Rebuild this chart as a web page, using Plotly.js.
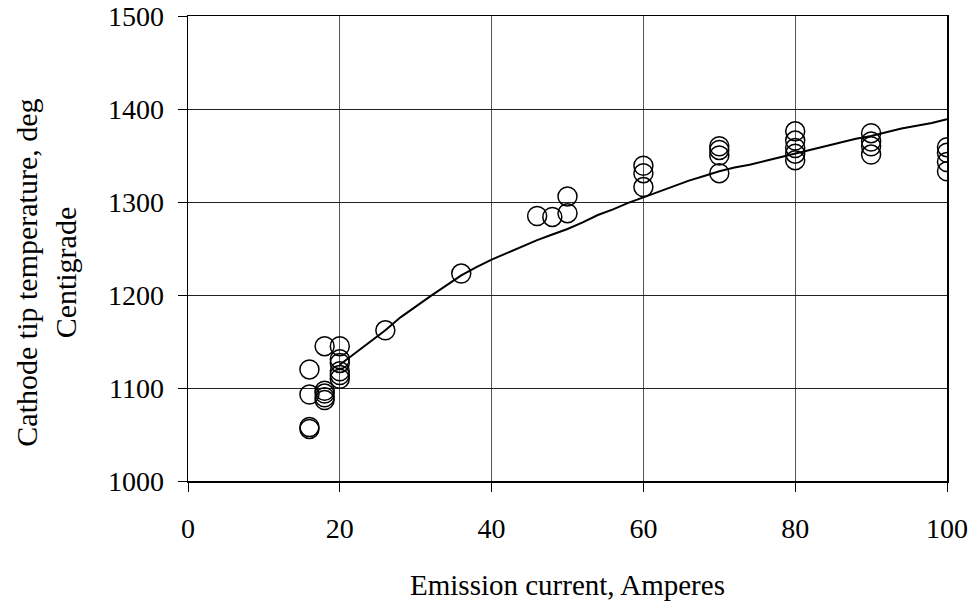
<!DOCTYPE html>
<html>
<head>
<meta charset="utf-8">
<script src="https://cdn.plot.ly/plotly-3.0.1.min.js"></script>
<style>html,body{margin:0;padding:0;background:#fff;}#chart{width:977px;height:609px;}</style>
</head>
<body>
<div id="chart"></div>
<script>
// Measured data points (emission current A, cathode tip temperature °C)
const pointCurrent = [16,16,16,16, 18,18,18,18,18, 20,20,20,20,20,20, 26, 36, 46, 48, 50,50, 60,60,60, 70,70,70,70, 80,80,80,80,80, 90,90,90,90, 100,100,100,100];
const pointTemp    = [1120,1093,1058,1056, 1145,1097,1094,1090,1087, 1145,1131,1127,1118,1114,1110, 1162, 1223, 1285, 1284, 1306,1288, 1339,1331,1316, 1360,1356,1350,1331, 1376,1366,1358,1352,1345, 1374,1365,1360,1351, 1359,1353,1343,1333];

// Fitted curve
const curveCurrent = [20,22,24,26,28,30,32,34,36,38,40,42,44,46,48,50,52,54,56,58,60,62,64,66,68,70,72,74,76,78,80,82,84,86,88,90,92,94,96,98,100];
const curveTemp    = [1125,1137,1150,1162,1176,1188,1199,1210,1221,1230,1238,1245,1252,1259,1265,1271,1278,1286,1292,1299,1305,1311,1317,1323,1328,1333,1337,1340,1344,1348,1352,1356,1360,1364,1368,1371,1375,1379,1382,1385,1389];

const xTicks = [0,20,40,60,80,100];
const yTicks = [1000,1100,1200,1300,1400,1500];
const xTitle = 'Emission current, Amperes';
const yTitle = 'Cathode tip temperature, deg<br>Centigrade';

const font = "Liberation Serif, Times New Roman, serif";

const traces = [
  {x: curveCurrent, y: curveTemp, mode: 'lines', type: 'scatter',
   line: {color: '#000', width: 2}, hoverinfo: 'skip'},
  {x: pointCurrent, y: pointTemp, mode: 'markers', type: 'scatter',
   marker: {symbol: 'circle-open', size: 19, color: '#000', line: {color: '#000', width: 1.5}}}
];

const layout = {
  width: 977, height: 609,
  margin: {l: 188, r: 30, t: 16, b: 128},
  paper_bgcolor: '#fff', plot_bgcolor: '#fff',
  showlegend: false,
  font: {family: font, color: '#000', size: 28},
  xaxis: {
    range: [0, 100], tickvals: xTicks, ticktext: xTicks.map(String),
    showgrid: true, gridcolor: '#555', gridwidth: 1,
    zeroline: false, showline: true, linecolor: '#000', linewidth: 1.5, mirror: true,
    ticks: 'outside', ticklen: 9, tickcolor: '#000', tickwidth: 1,
    ticklabelstandoff: 13,
    tickfont: {family: font, size: 28, color: '#000'},
    title: {text: xTitle, font: {family: font, size: 29, color: '#000'}, standoff: 31}
  },
  yaxis: {
    range: [1000, 1500], tickvals: yTicks, ticktext: yTicks.map(String),
    showgrid: true, gridcolor: '#222', gridwidth: 1,
    zeroline: false, showline: true, linecolor: '#000', linewidth: 1.5, mirror: true,
    ticks: 'outside', ticklen: 9, tickcolor: '#000', tickwidth: 1,
    ticklabelstandoff: 8,
    tickfont: {family: font, size: 28, color: '#000'}
  },
  annotations: [{
    text: yTitle, textangle: -90, showarrow: false,
    xref: 'paper', yref: 'paper', x: -0.1864, y: 0.447,
    xanchor: 'center', yanchor: 'middle', align: 'center',
    font: {family: font, size: 30, color: '#000'}
  }]
};

Plotly.newPlot('chart', traces, layout, {staticPlot: true, displayModeBar: false});
</script>
</body>
</html>
